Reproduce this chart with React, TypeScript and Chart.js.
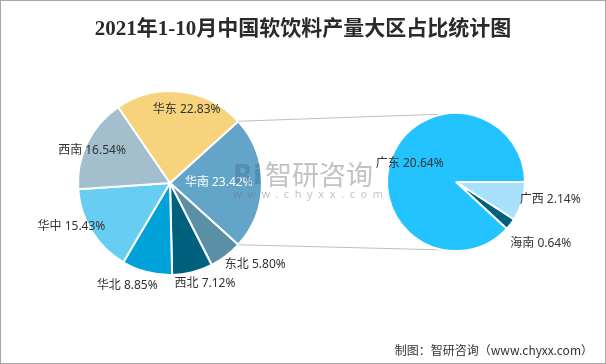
import React, { useEffect, useRef } from "react";
import { Chart, registerables } from "chart.js";

Chart.register(...registerables);

const titleText = "2021年1-10月中国软饮料产量大区占比统计图";
const footerText = "制图：智研咨询（www.chyxx.com）";

const regions = ["华南", "东北", "西北", "华北", "华中", "西南", "华东"];
const regionValues = [23.42, 5.8, 7.12, 8.85, 15.43, 16.54, 22.83];
const regionColors = ["#62a5c8", "#5a8fa6", "#00617f", "#00a3d9", "#67cdf3", "#a3bfcd", "#f6d37c"];
const regionLabelColors = ["#ffffff", "#333333", "#333333", "#333333", "#333333", "#333333", "#333333"];
const regionLabelRadius = [0.53, 1.28, 1.16, 1.21, 1.17, 0.92, 0.82];
const regionLabelShift = [0, -9, -5, 8, 8, -3, 6];

const southRegions = ["广西", "海南", "广东"];
const southValues = [2.14, 0.64, 20.64];
const southColors = ["#a7e2fa", "#00617f", "#22c3ff"];
const southLabelColors = ["#333333", "#333333", "#333333"];
const southLabelRadius = [1.39, 1.52, 0.72];
const southLabelShift = [-5.6, -1.7, 0];

const labelFont = '12px "Noto Sans", "Noto Sans CJK SC", sans-serif';

function makeLabelPlugin(names: string[], values: number[], radiusF: number[], shift: number[], colors: string[]) {
  return {
    id: "sliceLabels",
    afterDatasetsDraw(chart: any) {
      const ctx = chart.ctx;
      const meta = chart.getDatasetMeta(0);
      meta.data.forEach((arc: any, i: number) => {
        const p = arc.getProps(["x", "y", "startAngle", "endAngle", "outerRadius"], true);
        const a = (p.startAngle + p.endAngle) / 2 + (shift[i] * Math.PI) / 180;
        const r = p.outerRadius * radiusF[i];
        ctx.save();
        ctx.font = labelFont;
        ctx.fillStyle = colors[i];
        ctx.textAlign = "center";
        ctx.textBaseline = "middle";
        ctx.fillText(`${names[i]} ${values[i].toFixed(2)}%`, p.x + r * Math.cos(a), p.y + r * Math.sin(a));
        ctx.restore();
      });
    },
  };
}

export default function App() {
  const leftRef = useRef<HTMLCanvasElement>(null);
  const rightRef = useRef<HTMLCanvasElement>(null);

  useEffect(() => {
    const total = regionValues.reduce((a, b) => a + b, 0);
    const leftRotation = 90 - ((regionValues[0] / total) * 360) / 2;

    const left = new Chart(leftRef.current as HTMLCanvasElement, {
      type: "pie",
      data: {
        labels: regions,
        datasets: [
          {
            data: regionValues,
            backgroundColor: regionColors,
            borderColor: "#ffffff",
            borderWidth: 2,
          },
        ],
      },
      options: {
        responsive: false,
        animation: false,
        rotation: leftRotation,
        radius: 92,
        layout: { padding: { left: 0, right: 266, top: 2, bottom: 0 } },
        plugins: { legend: { display: false }, tooltip: { enabled: false }, title: { display: false } },
      } as any,
      plugins: [makeLabelPlugin(regions, regionValues, regionLabelRadius, regionLabelShift, regionLabelColors)],
    });

    const connector = {
      id: "connector",
      beforeDatasetsDraw(chart: any) {
        const la = left.getDatasetMeta(0).data[0] as any;
        const lp = la.getProps(["x", "y", "startAngle", "endAngle", "outerRadius"], true);
        const ra = chart.getDatasetMeta(0).data[0];
        const rp = ra.getProps(["x", "y", "outerRadius"], true);
        const topA = -Math.PI / 2 - (10 * Math.PI) / 180;
        const botA = Math.PI / 2 + (10 * Math.PI) / 180;
        const ctx = chart.ctx;
        ctx.save();
        ctx.strokeStyle = "#bfbfbf";
        ctx.lineWidth = 1;
        ctx.beginPath();
        ctx.moveTo(lp.x + lp.outerRadius * Math.cos(lp.startAngle), lp.y + lp.outerRadius * Math.sin(lp.startAngle));
        ctx.lineTo(rp.x + rp.outerRadius * Math.cos(topA), rp.y + rp.outerRadius * Math.sin(topA));
        ctx.moveTo(lp.x + lp.outerRadius * Math.cos(lp.endAngle), lp.y + lp.outerRadius * Math.sin(lp.endAngle));
        ctx.lineTo(rp.x + rp.outerRadius * Math.cos(botA), rp.y + rp.outerRadius * Math.sin(botA));
        ctx.stroke();
        ctx.restore();
      },
    };

    const right = new Chart(rightRef.current as HTMLCanvasElement, {
      type: "pie",
      data: {
        labels: southRegions,
        datasets: [
          {
            data: southValues,
            backgroundColor: southColors,
            borderColor: "#ffffff",
            borderWidth: 2,
          },
        ],
      },
      options: {
        responsive: false,
        animation: false,
        rotation: 90,
        radius: 69,
        layout: { padding: { left: 306, right: 0, top: 0, bottom: 0 } },
        plugins: { legend: { display: false }, tooltip: { enabled: false }, title: { display: false } },
      } as any,
      plugins: [connector, makeLabelPlugin(southRegions, southValues, southLabelRadius, southLabelShift, southLabelColors)],
    });

    return () => {
      right.destroy();
      left.destroy();
    };
  }, []);

  const wm = "rgba(110,110,110,0.42)";
  return (
    <div style={{ position: "fixed", left: 0, top: 0, width: 606, height: 364, background: "#ffffff", overflow: "hidden" }}>
      <canvas ref={leftRef} width={606} height={364} style={{ position: "absolute", left: 0, top: 0 }} />
      <canvas ref={rightRef} width={606} height={364} style={{ position: "absolute", left: 0, top: 0 }} />
      <div
        style={{
          position: "absolute",
          left: 0,
          top: 17,
          width: 606,
          textAlign: "center",
          fontFamily: '"Liberation Serif", "Noto Sans CJK SC", serif',
          fontWeight: "bold",
          fontSize: 21,
          lineHeight: "22px",
          color: "#2a2a2a",
        }}
      >
        {titleText}
      </div>
      <div
        style={{
          position: "absolute",
          left: 233,
          top: 162,
          fontFamily: '"DejaVu Sans", sans-serif',
          fontWeight: "bold",
          fontSize: 26,
          lineHeight: "26px",
          color: "rgba(60,100,140,0.35)",
          pointerEvents: "none",
        }}
      >
        Ri
      </div>
      <div
        style={{
          position: "absolute",
          left: 265,
          top: 160,
          fontFamily: '"Noto Sans CJK SC", sans-serif',
          fontSize: 27,
          lineHeight: "28px",
          color: wm,
          pointerEvents: "none",
        }}
      >
        智研咨询
      </div>
      <div
        style={{
          position: "absolute",
          left: 233,
          top: 187,
          fontFamily: '"Noto Sans", sans-serif',
          fontSize: 11,
          lineHeight: "13px",
          letterSpacing: "5.6px",
          color: wm,
          pointerEvents: "none",
        }}
      >
        www.chyxx.com
      </div>
      <div
        style={{
          position: "absolute",
          right: 13,
          top: 343,
          fontFamily: '"Noto Sans CJK SC", sans-serif',
          fontSize: 12,
          lineHeight: "14px",
          color: "#333333",
          whiteSpace: "nowrap",
        }}
      >
        {footerText}
      </div>
      <div
        style={{
          position: "absolute",
          left: 0,
          top: 0,
          width: 606,
          height: 364,
          boxSizing: "border-box",
          border: "1px solid #a6a6a6",
          pointerEvents: "none",
        }}
      />
    </div>
  );
}
